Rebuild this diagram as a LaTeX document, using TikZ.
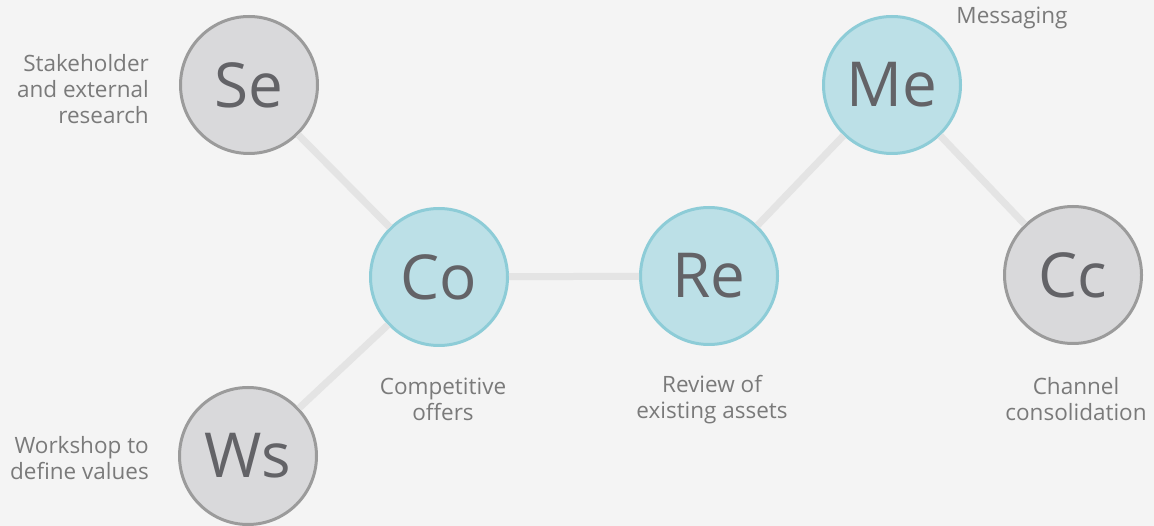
\documentclass[tikz,border=0pt]{standalone}
\usepackage{fontspec}
\setmainfont{Open Sans}
\usetikzlibrary{positioning}
\definecolor{bgcol}{HTML}{F4F4F4}
\definecolor{grayfill}{HTML}{D9D9DB}
\definecolor{grayline}{HTML}{9B9B9B}
\definecolor{bluefill}{HTML}{BCE0E7}
\definecolor{blueline}{HTML}{8DCCD7}
\definecolor{bigtext}{HTML}{636367}
\definecolor{lbltext}{HTML}{7A7A7A}
\definecolor{linkcol}{HTML}{E4E4E4}

\begin{document}
\begin{tikzpicture}[x=1pt, y=-1pt,
		bubble/.style={circle, minimum size=137pt, inner sep=0pt, line width=3pt, text=bigtext, font=\fontsize{62}{62}\selectfont},
		graybub/.style={bubble, fill=grayfill, draw=grayline},
		bluebub/.style={bubble, fill=bluefill, draw=blueline},
		lbl/.style={text=lbltext, font=\fontsize{22.5}{26}\selectfont, inner sep=0pt},
		link/.style={line width=7pt, linkcol}]
				\fill[bgcol] (0,0) rectangle (1154,526);
				\useasboundingbox (0,0) rectangle (1154,526);
				% bubbles
				\node[graybub] (se) at (249,85) {Se};
				\node[bluebub] (co) at (439,277) {Co};
				\node[bluebub] (re) at (709,276) {Re};
				\node[bluebub] (me) at (892,85) {Me};
				\node[graybub] (cc) at (1073,275) {Cc};
				\node[graybub] (ws) at (248,456) {Ws};
				% links
				\draw[link] (se) -- (co);
				\draw[link] (ws) -- (co);
				\draw[link] (co) -- (re);
				\draw[link] (re) -- (me);
				\draw[link] (me) -- (cc);
				% labels
				\node[lbl, anchor=east, align=right] (selbl) at (149,89) {Stakeholder\\and external\\research};
				\node[lbl, anchor=east, align=right] (wslbl) at (149,458) {Workshop to\\define values};
				\node[lbl, align=center] (colbl) at (443,399) {Competitive\\offers};
				\node[lbl, align=center] (relbl) at (712,400) {Review of\\existing assets};
				\node[lbl, align=center] (cclbl) at (1076,399) {Channel\\consolidation};
				\node[lbl] (melbl) at (1012,18) {Messaging};
\end{tikzpicture}
\end{document}
